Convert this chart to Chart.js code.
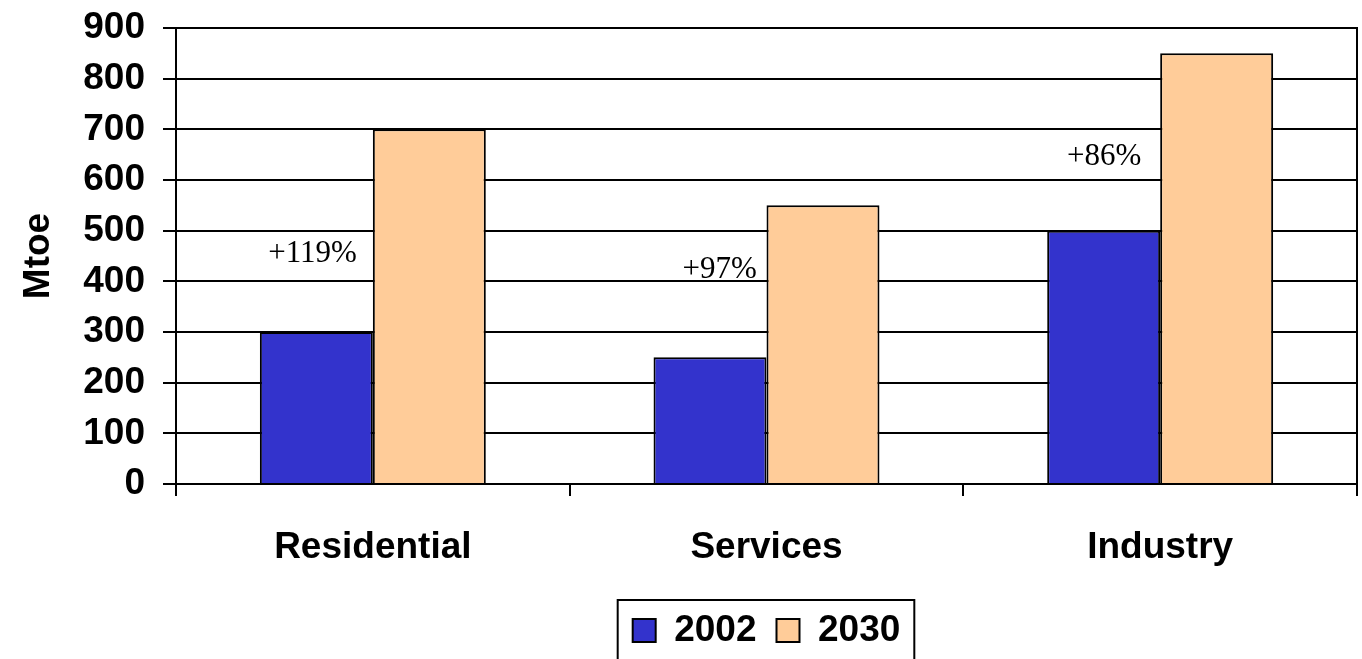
<!DOCTYPE html>
<html>
<head>
<meta charset="utf-8">
<script src="https://cdn.jsdelivr.net/npm/chart.js@4/dist/chart.umd.min.js"></script>
<style>
  html, body { margin: 0; padding: 0; background: #ffffff; }
  #wrap { width: 1362px; height: 659px; position: relative; }
</style>
</head>
<body>
<div id="wrap"><canvas id="c" width="1362" height="659"></canvas></div>
<script>
const categories = ['Residential', 'Services', 'Industry'];
const seriesNames = ['2002', '2030'];
const values2002 = [300, 250, 500];
const values2030 = [700, 550, 850];
const growthLabels = ['+119%', '+97%', '+86%'];
const yTicks = [0, 100, 200, 300, 400, 500, 600, 700, 800, 900];

const FONT = "'Liberation Sans', Arial, sans-serif";

// growth annotation anchors: (offset from category centre in category units, value)
const growthAnchors = [[-0.153, 454], [-0.119, 422], [-0.142, 645]];

const extras = {
  id: 'extras',
  afterDatasetsDraw(chart) {
    const ctx = chart.ctx;
    const x = chart.scales.x, y = chart.scales.y;
    ctx.save();
    ctx.font = "31px 'Liberation Serif', 'Times New Roman', serif";
    ctx.fillStyle = '#000';
    ctx.textAlign = 'center';
    ctx.textBaseline = 'middle';
    growthLabels.forEach((t, i) => {
      const a = growthAnchors[i];
      ctx.fillText(t, x.getPixelForValue(i + a[0]), y.getPixelForValue(a[1]));
    });
    const ca = chart.chartArea;
    ctx.strokeStyle = '#000';
    ctx.lineWidth = 2;
    ctx.beginPath();
    ctx.moveTo(ca.right, ca.top - 1);
    ctx.lineTo(ca.right, ca.bottom);
    ctx.stroke();
    ctx.restore();
  },
  afterDraw(chart) {
    const lg = chart.legend;
    if (!lg || !lg.legendHitBoxes || !lg.legendHitBoxes.length) return;
    const hb = lg.legendHitBoxes;
    const l = Math.min(...hb.map(h => h.left)) - 15;
    const r = Math.max(...hb.map(h => h.left + h.width)) + 14;
    const ctx = chart.ctx;
    ctx.save();
    ctx.strokeStyle = '#000';
    ctx.lineWidth = 2;
    ctx.strokeRect(l, 600, r - l, 80);
    ctx.restore();
  }
};

new Chart(document.getElementById('c'), {
  type: 'bar',
  data: {
    labels: categories,
    datasets: [
      { label: seriesNames[0], data: values2002, backgroundColor: '#3333CC', borderColor: '#000', borderWidth: 2 },
      { label: seriesNames[1], data: values2030, backgroundColor: '#FFCC99', borderColor: '#000', borderWidth: 2 }
    ]
  },
  options: {
    responsive: false,
    animation: false,
    events: [],
    layout: { padding: { top: 28, right: 5, bottom: 0, left: 0 } },
    datasets: { bar: { barPercentage: 1.0, categoryPercentage: 0.574 } },
    plugins: {
      legend: {
        position: 'bottom',
        fullSize: false,
        labels: {
          color: '#000',
          font: { family: FONT, size: 37, weight: 'bold' },
          boxWidth: 23, boxHeight: 23, padding: 20
        }
      },
      tooltip: { enabled: false },
      title: { display: false }
    },
    scales: {
      x: {
        afterFit(s) { s.height = 108; s.paddingLeft = 0; s.paddingRight = 0; },
        grid: { display: true, drawOnChartArea: false, drawTicks: true, tickLength: 12, color: '#000', lineWidth: 2, offset: true },
        border: { display: true, color: '#000', width: 2 },
        ticks: { color: '#000', font: { family: FONT, size: 37, weight: 'bold' }, padding: 30, maxRotation: 0 }
      },
      y: {
        min: 0, max: 900,
        afterFit(s) { s.width = 176; s.paddingTop = 0; s.paddingBottom = 0; },
        afterBuildTicks(s) { s.ticks = yTicks.map(v => ({ value: v })); },
        grid: { color: '#000', lineWidth: 2, drawTicks: true, tickLength: 13 },
        border: { display: true, color: '#000', width: 2 },
        ticks: { color: '#000', font: { family: FONT, size: 37, weight: 'bold' }, padding: 18 },
        title: { display: true, text: 'Mtoe', color: '#000', font: { family: FONT, size: 37, weight: 'bold' }, padding: { top: 17, bottom: 0 } }
      }
    }
  },
  plugins: [extras]
});
</script>
</body>
</html>
